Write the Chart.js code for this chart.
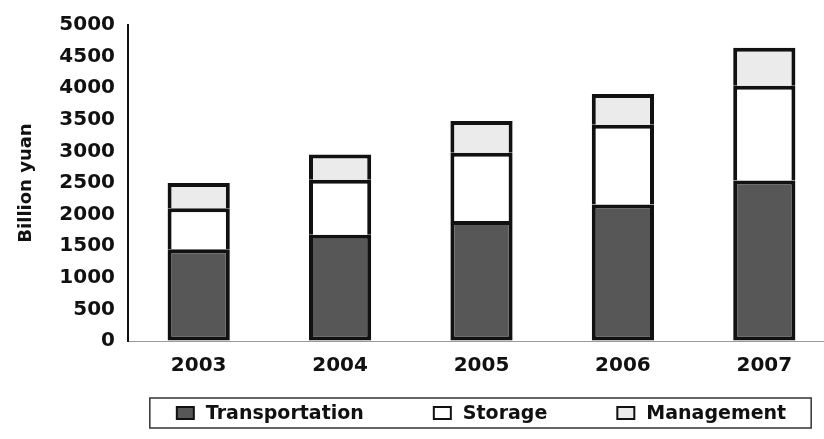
<!DOCTYPE html>
<html>
<head>
<meta charset="utf-8">
<script src="https://cdn.jsdelivr.net/npm/chart.js@4.4.1/dist/chart.umd.min.js"></script>
<style>
  html, body { margin: 0; padding: 0; background: #fff; overflow: hidden; }
  #wrap { width: 824px; height: 439px; overflow: hidden; position: relative; }
  #chart { display: block; }
</style>
</head>
<body>
<div id="wrap"><canvas id="chart" width="962" height="439"></canvas></div>
<script>
// Dati (miliardi di yuan)
const years = ['2003', '2004', '2005', '2006', '2007'];
const transportation = [1450, 1680, 1900, 2160, 2540];
const storage = [650, 870, 1080, 1260, 1500];
const management = [400, 400, 500, 490, 600];
const seriesNames = ['Transportation', 'Storage', 'Management'];

const tickFont = { family: 'DejaVu Sans', size: 20, weight: 'bold' };

// Legenda disegnata a mano, con il riquadro intorno
const boxLegend = {
    id: 'boxLegend',
    afterDraw(chart) {
        const ctx = chart.ctx;
        const area = chart.chartArea;
        const ds = chart.data.datasets;
        ctx.save();
        ctx.font = 'bold 19px "DejaVu Sans"';
        const boxW = 17, boxH = 12, gapText = 12, gapItem = 70;
        const widths = ds.map(d => boxW + gapText + ctx.measureText(d.label).width);
        const total = widths.reduce((a, b) => a + b, 0) + gapItem * (ds.length - 1);
        const cy = 413;
        let x = (area.left + area.right) / 2 - total / 2;
        const startX = x;
        ds.forEach((d, i) => {
            ctx.fillStyle = d.backgroundColor;
            ctx.fillRect(x, cy - boxH / 2, boxW, boxH);
            ctx.strokeStyle = '#111';
            ctx.lineWidth = 2;
            ctx.strokeRect(x, cy - boxH / 2, boxW, boxH);
            ctx.fillStyle = '#111';
            ctx.textBaseline = 'middle';
            ctx.textAlign = 'left';
            ctx.fillText(d.label, x + boxW + gapText, cy + 1);
            x += widths[i] + gapItem;
        });
        const endX = x - gapItem;
        ctx.strokeStyle = '#333';
        ctx.lineWidth = 1.5;
        ctx.strokeRect(startX - 27, cy - 15, (endX - startX) + 52, 30);
        ctx.restore();
    }
};

const ctx = document.getElementById('chart').getContext('2d');
new Chart(ctx, {
    type: 'bar',
    data: {
        labels: years,
        datasets: [
            { label: seriesNames[0], data: transportation, backgroundColor: '#575757', borderSkipped: false },
            { label: seriesNames[1], data: storage, backgroundColor: '#ffffff', borderSkipped: 'start' },
            { label: seriesNames[2], data: management, backgroundColor: '#ebebeb', borderSkipped: 'start' }
        ].map(d => Object.assign(d, {
            borderColor: '#111',
            borderWidth: 4,
            inflateAmount: 0,
            barPercentage: 0.44,
            categoryPercentage: 1
        }))
    },
    options: {
        responsive: false,
        animation: false,
        layout: { padding: { left: 0, right: 127, top: 21, bottom: 48 } },
        plugins: {
            legend: { display: false },
            tooltip: { enabled: false }
        },
        scales: {
            x: {
                stacked: true,
                grid: { display: true, color: 'transparent', drawTicks: false },
                border: { display: true, color: '#9a9a9a', width: 1, dash: [3, 4] },
                ticks: { font: tickFont, color: '#111', padding: 13 }
            },
            y: {
                stacked: true,
                min: 0,
                max: 5000,
                afterFit: s => { s.width = 128; },
                grid: { display: true, color: 'transparent', drawTicks: false },
                border: { display: true, color: '#111', width: 2 },
                ticks: {
                    stepSize: 500,
                    font: tickFont,
                    color: '#111',
                    padding: 13,
                    callback: v => String(v)
                },
                title: {
                    display: true,
                    text: 'Billion yuan',
                    color: '#111',
                    font: { family: 'DejaVu Sans', size: 18, weight: 'bold' },
                    padding: { top: 16, bottom: 0 }
                }
            }
        }
    },
    plugins: [boxLegend]
});
</script>
</body>
</html>
